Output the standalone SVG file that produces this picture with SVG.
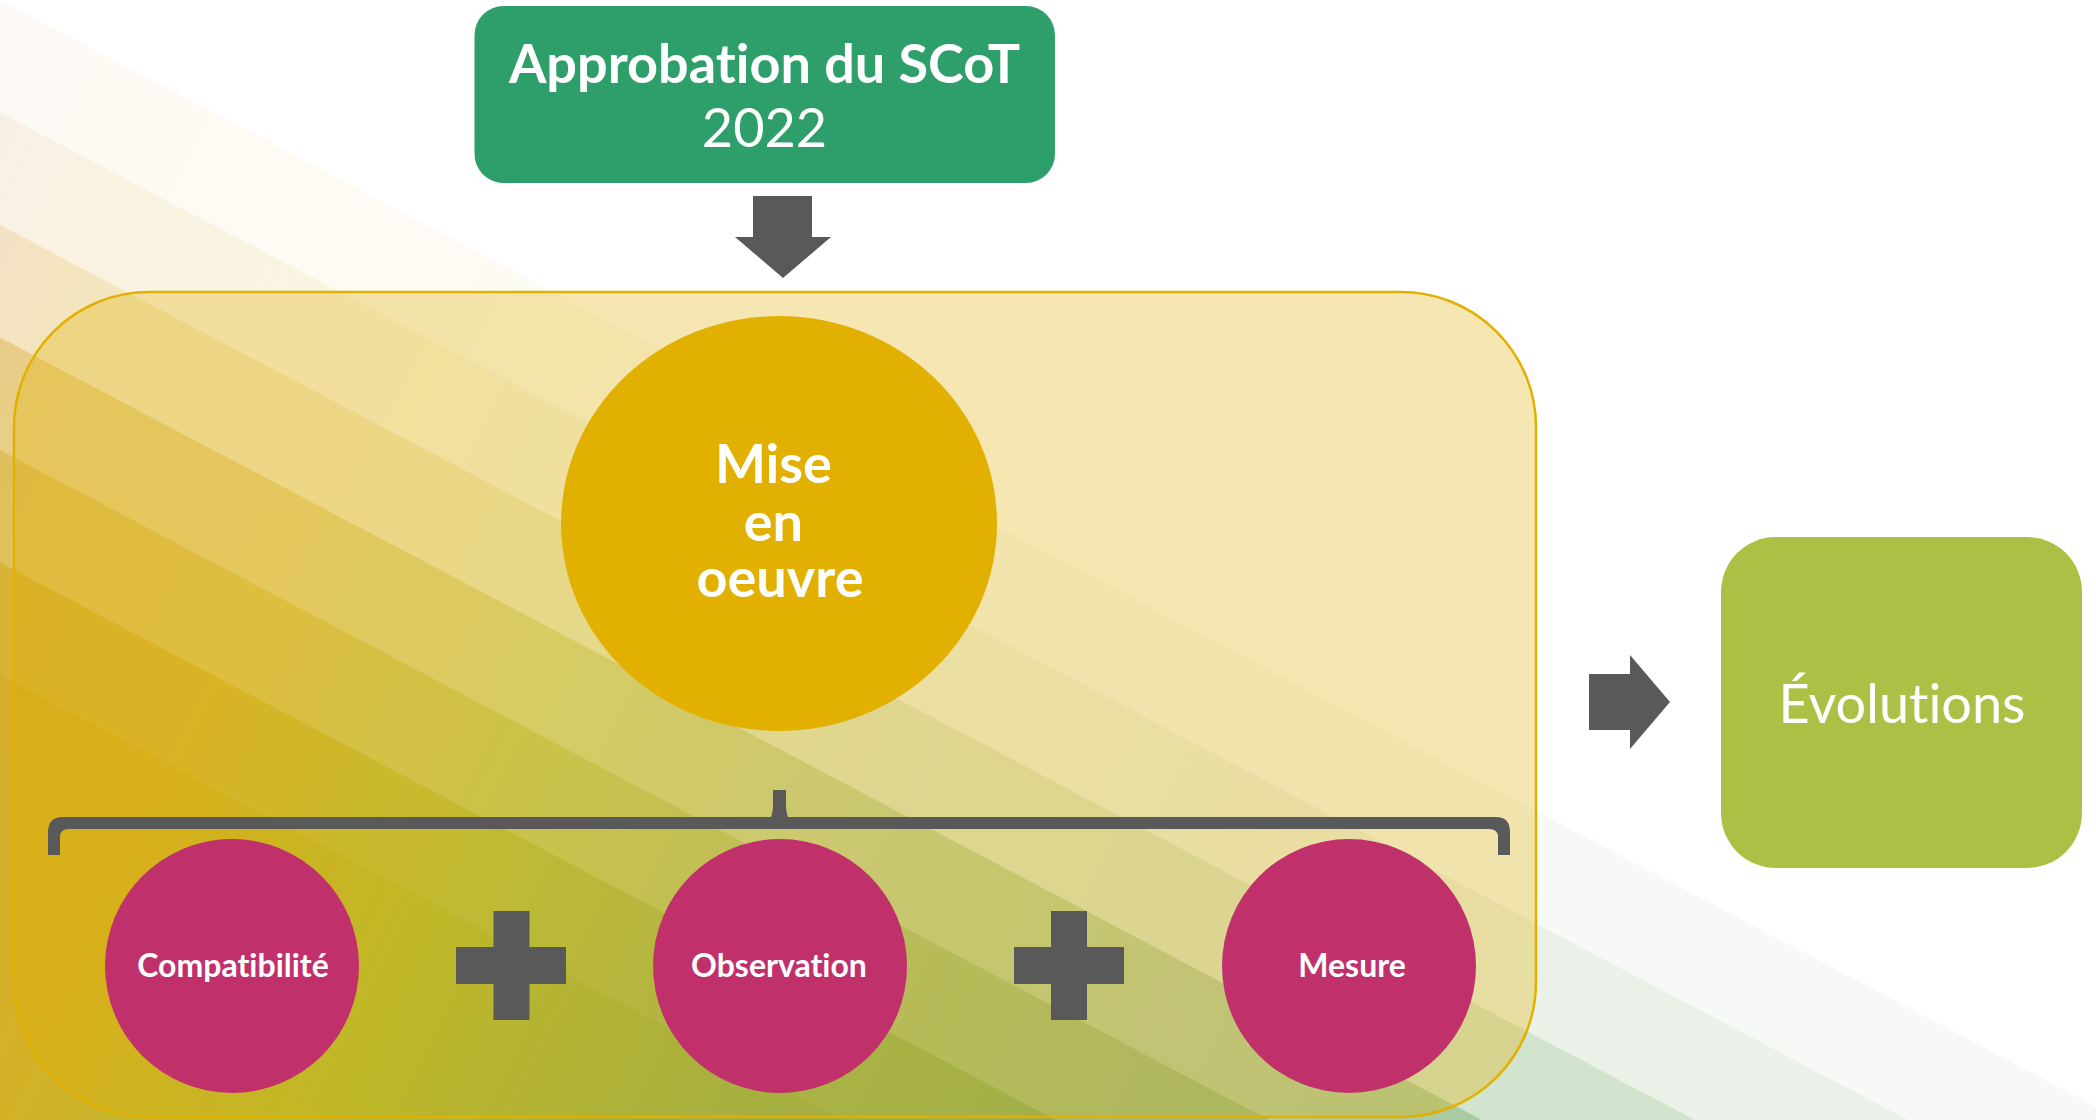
<svg xmlns="http://www.w3.org/2000/svg" width="2096" height="1120" viewBox="0 0 2096 1120">
  <defs>
    <linearGradient id="bandGrad" gradientUnits="userSpaceOnUse" x1="0" y1="0" x2="1600" y2="800">
      <stop offset="0" stop-color="#da8c68"/>
      <stop offset="0.04" stop-color="#d48e48"/>
      <stop offset="0.07" stop-color="#d89e3a"/>
      <stop offset="0.10" stop-color="#d8a72a"/>
      <stop offset="0.14" stop-color="#d6ac29"/>
      <stop offset="0.28" stop-color="#d3b127"/>
      <stop offset="0.44" stop-color="#b1bb39"/>
      <stop offset="0.64" stop-color="#8fb05b"/>
      <stop offset="0.73" stop-color="#86ad55"/>
      <stop offset="0.84" stop-color="#7ba664"/>
      <stop offset="1" stop-color="#68a25c"/>
    </linearGradient>
    <style>
      .band { fill: url(#bandGrad); }
      .dark { fill: #595959; }
      .pink { fill: #c0316b; }
      .lbl { font-family: Lato, "Open Sans", "Liberation Sans", sans-serif; fill: #ffffff; text-anchor: middle; font-variant-ligatures: none; font-feature-settings: "liga" 0, "clig" 0; }
      .b { font-weight: 700; }
    </style>
  </defs>

  <g id="background">
    <rect x="0" y="0" width="2096" height="1120" fill="#ffffff"/>
    <polygon class="band" fill-opacity="0.06" points="0,0 2096,1106.7 2096,2500 0,2500"/>
    <polygon class="band" fill-opacity="0.085" points="0,112.5 2096,1219.2 2096,2500 0,2500"/>
    <polygon class="band" fill-opacity="0.186" points="0,225 2096,1331.7 2096,2500 0,2500"/>
    <polygon class="band" fill-opacity="0.386" points="0,337.5 2096,1444.2 2096,2500 0,2500"/>
    <polygon class="band" fill-opacity="0.442" points="0,450 2096,1556.7 2096,2500 0,2500"/>
    <polygon class="band" fill-opacity="0.708" points="0,562.5 2096,1669.2 2096,2500 0,2500"/>
    <polygon class="band" fill-opacity="1" points="0,675 2096,1781.7 2096,2500 0,2500"/>
  </g>

  <g id="container">
    <rect x="14" y="292" width="1522" height="825" rx="135" ry="135" fill="#e2b000" fill-opacity="0.3" stroke="#e2b000" stroke-width="2.5"/>
  </g>

  <g id="node-approbation">
    <rect x="474.5" y="6" width="580.5" height="177" rx="29" ry="29" fill="#2e9f6b"/>
    <text class="lbl b" x="764.5" y="83" font-size="54">Approbation du SCoT</text>
    <text class="lbl" x="764.5" y="147" font-size="54">2022</text>
  </g>

  <g id="node-mise-en-oeuvre">
    <ellipse cx="779" cy="523.5" rx="218" ry="207.5" fill="#e2b000"/>
    <text class="lbl b" font-size="54">
      <tspan x="780" y="483">Mise</tspan>
      <tspan x="780" y="541">en</tspan>
      <tspan x="780" y="597">oeuvre</tspan>
    </text>
  </g>

  <g id="node-compatibilite">
    <circle class="pink" cx="232" cy="966" r="127"/>
    <text class="lbl b" x="233" y="977" font-size="32">Compatibilité</text>
  </g>

  <g id="node-observation">
    <circle class="pink" cx="780" cy="966" r="127"/>
    <text class="lbl b" x="779" y="977" font-size="32">Observation</text>
  </g>

  <g id="node-mesure">
    <circle class="pink" cx="1349" cy="966" r="127"/>
    <text class="lbl b" x="1352" y="977" font-size="32">Mesure</text>
  </g>

  <g id="node-evolutions">
    <rect x="1721" y="537" width="361" height="331" rx="55" ry="55" fill="#abc145"/>
    <text class="lbl" x="1902" y="723" font-size="54">Évolutions</text>
  </g>

  <g id="plus-1">
    <rect class="dark" x="493.5" y="911" width="36" height="109"/>
    <rect class="dark" x="456" y="947" width="110" height="37"/>
  </g>
  <g id="plus-2">
    <rect class="dark" x="1051" y="911" width="36" height="109"/>
    <rect class="dark" x="1014" y="947" width="110" height="37"/>
  </g>

  <g id="connectors">
    <path id="arrow-down" class="dark" d="M753 196 H812 V237 H831 L783 278 L735 237 H753 Z"/>
    <path id="arrow-right" class="dark" d="M1589 674 H1630 V655 L1670 702 L1630 749 V730 H1589 Z"/>
    <path id="brace" class="dark" d="M48 855 L48 832 Q48 817 63 817 L771 817 Q773 812 773 804 L773 790 L786 790 L786 804 Q786 812 788 817 L1496 817 Q1510 817 1510 832 L1510 855 L1498 855 L1498 837 Q1498 829 1489 829 L69 829 Q60 829 60 837 L60 855 Z"/>
  </g>
</svg>
